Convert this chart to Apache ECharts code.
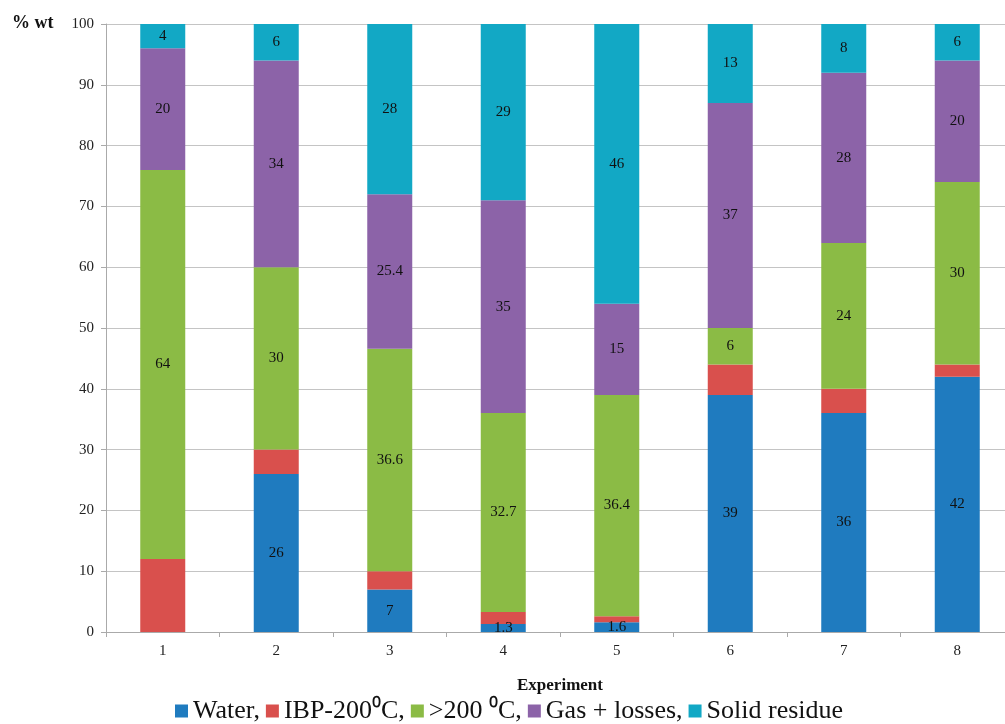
<!DOCTYPE html>
<html>
<head>
<meta charset="utf-8">
<script src="https://cdn.jsdelivr.net/npm/echarts@6/dist/echarts.min.js"></script>
<style>html,body{margin:0;padding:0;background:#fff;overflow:hidden}#c{width:1005px;height:724px}</style>
</head>
<body>
<div id="c"></div>
<script>
const categories = ['1','2','3','4','5','6','7','8'];
const water = [0, 26, 7, 1.3, 1.6, 39, 36, 42];
const ibp = [12, 4, 3, 2, 1, 5, 4, 2];
const above200 = [64, 30, 36.6, 32.7, 36.4, 6, 24, 30];
const gasLosses = [20, 34, 25.4, 35, 15, 37, 28, 20];
const solidResidue = [4, 6, 28, 29, 46, 13, 8, 6];
const seriesNames = ['Water,', 'IBP-200\u2070C,', '>200 \u2070C,', 'Gas + losses,', 'Solid residue'];
const colors = ['#1F7BBF', '#D9504D', '#8BBB45', '#8C63A8', '#12A8C5'];

const font = 'Liberation Serif';
function mk(name, data, color, showLabel) {
  return {
    name: name, type: 'bar', stack: 'all', data: data, barWidth: 45,
    itemStyle: { color: color },
    label: {
      show: showLabel, position: 'inside', color: '#111', fontFamily: font, fontSize: 15,
      formatter: p => (p.value ? String(p.value) : '')
    }
  };
}
const chart = echarts.init(document.getElementById('c'));
chart.setOption({
  animation: false,
  textStyle: { fontFamily: font },
  grid: { left: 106, width: 908, top: 24, bottom: 92, outerBoundsMode: 'none', containLabel: false },
  graphic: [{ type: 'text', left: 12, top: 14, style: { text: '% wt', font: 'bold 18px "Liberation Serif"', fill: '#111' } }],
  legend: {
    bottom: -5, left: 170, itemWidth: 13, itemHeight: 13, itemGap: 6,
    textStyle: { fontFamily: font, fontSize: 26, color: '#111' },
    icon: 'rect',
    data: seriesNames
  },
  xAxis: {
    type: 'category', data: categories,
    name: 'Experiment', nameLocation: 'middle', nameGap: 45,
    nameTextStyle: { fontFamily: font, fontSize: 17, fontWeight: 'bold', color: '#111' },
    axisLine: { lineStyle: { color: '#aaa' } },
    axisTick: { show: true, length: 5, lineStyle: { color: '#aaa' } },
    axisLabel: { fontFamily: font, fontSize: 15, color: '#222', margin: 12 }
  },
  yAxis: {
    type: 'value', min: 0, max: 100, interval: 10,
    axisLine: { show: true, lineStyle: { color: '#aaa' } },
    axisTick: { show: true, length: 5, lineStyle: { color: '#aaa' } },
    axisLabel: { fontFamily: font, fontSize: 15, color: '#222', margin: 12 },
    splitLine: { lineStyle: { color: '#c4c4c4' } }
  },
  series: [
    mk(seriesNames[0], water, colors[0], true),
    mk(seriesNames[1], ibp, colors[1], false),
    mk(seriesNames[2], above200, colors[2], true),
    mk(seriesNames[3], gasLosses, colors[3], true),
    mk(seriesNames[4], solidResidue, colors[4], true)
  ]
});
</script>
</body>
</html>
